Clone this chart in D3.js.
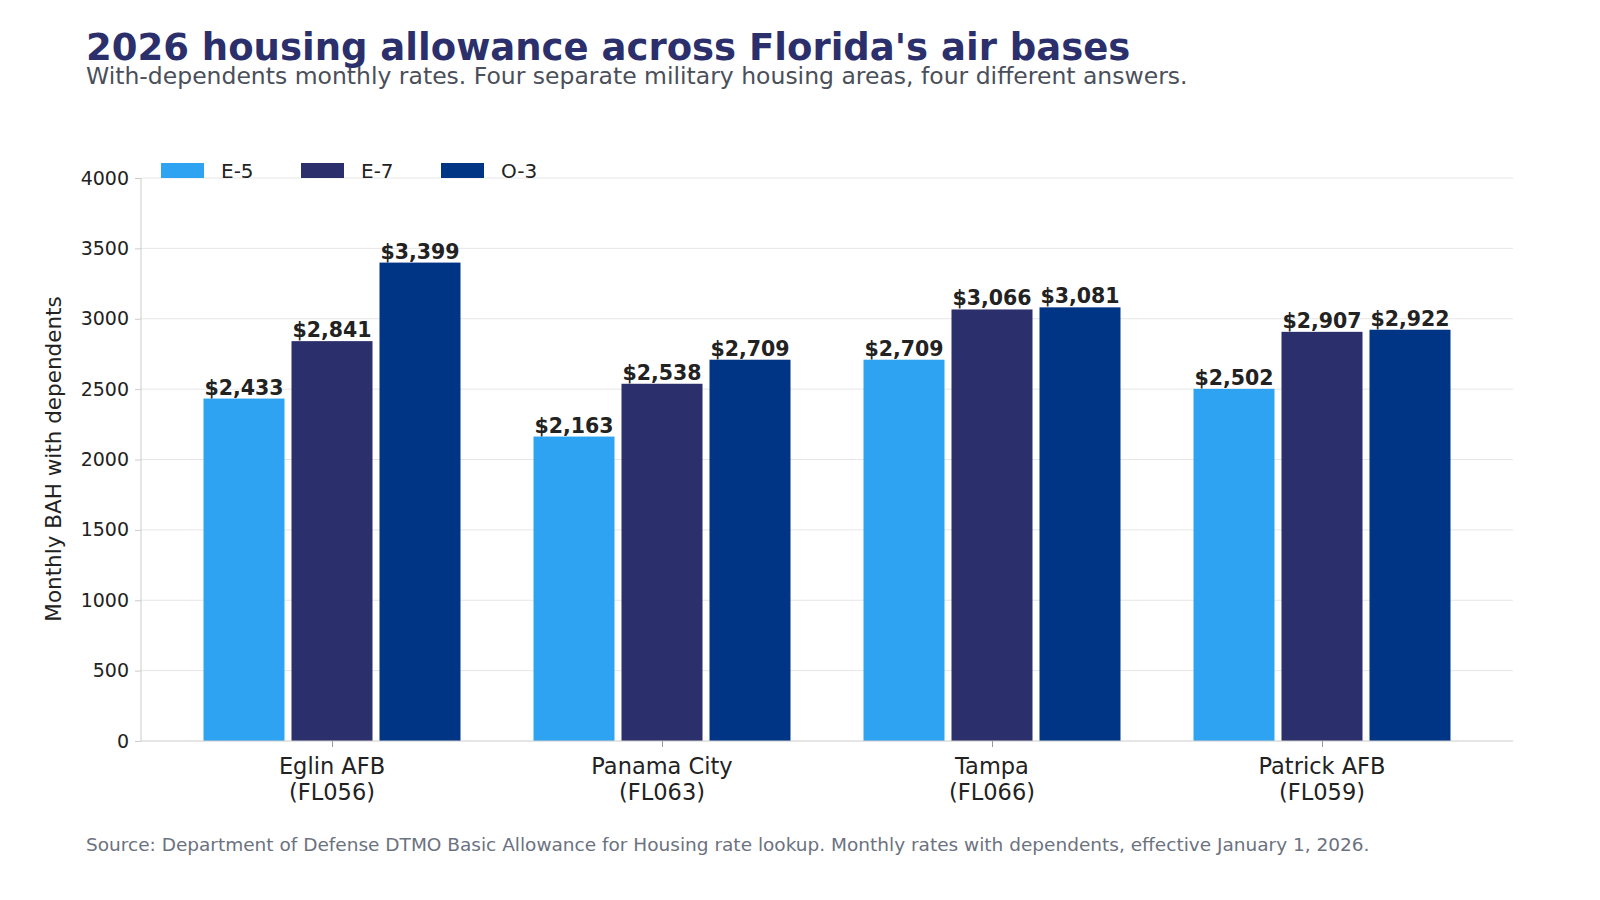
<!DOCTYPE html>
<html><head><meta charset="utf-8">
<script src="https://cdn.jsdelivr.net/npm/d3@7"></script>
<style>body{margin:0;background:#fff;font-family:"DejaVu Sans",sans-serif}</style>
</head><body><svg id="c" width="1600" height="900"></svg>
<script>
// chart data
const bases = ["Eglin AFB|(FL056)", "Panama City|(FL063)", "Tampa|(FL066)", "Patrick AFB|(FL059)"];
const grades = ["E-5", "E-7", "O-3"];
const e5 = [2433, 2163, 2709, 2502];
const e7 = [2841, 2538, 3066, 2907];
const o3 = [3399, 2709, 3081, 2922];
const yTicks = [0, 500, 1000, 1500, 2000, 2500, 3000, 3500, 4000];
const colors = ["#2EA3F2", "#2B2F6B", "#003586"];

const series = [e5, e7, o3];
const svg = d3.select("#c");
const x = d3.scalePoint().domain(bases).range([332, 1322]);
const y = d3.scaleLinear().domain([0, 4000]).range([741, 178]);
const off = d3.scalePoint().domain(grades).range([-88, 88]);
const bw = 81;

// title block
svg.append("text").attr("x", 86).attr("y", 60).attr("font-size", 37).attr("font-weight", "bold")
  .attr("fill", "#2B2F6B").text("2026 housing allowance across Florida's air bases");
svg.append("text").attr("x", 86).attr("y", 84).attr("font-size", 23.5).attr("fill", "#4a4f5a")
  .text("With-dependents monthly rates. Four separate military housing areas, four different answers.");

// grid
svg.append("g").selectAll("line").data(yTicks.slice(1)).join("line")
  .attr("x1", 141).attr("x2", 1513).attr("y1", d => y(d)).attr("y2", d => y(d))
  .attr("stroke", "#e6e6e6").attr("stroke-width", 1);

// bars
series.forEach((vals, i) => {
  const g = svg.append("g");
  g.selectAll("rect").data(vals).join("rect")
    .attr("x", (d, j) => x(bases[j]) + off(grades[i]) - bw / 2)
    .attr("y", d => y(d)).attr("width", bw).attr("height", d => y(0) - y(d))
    .attr("fill", colors[i]);
  g.selectAll("text").data(vals).join("text")
    .attr("x", (d, j) => x(bases[j]) + off(grades[i]))
    .attr("y", d => y(d) - 4).attr("text-anchor", "middle")
    .attr("font-size", 20.5).attr("font-weight", "bold").attr("fill", "#222")
    .text(d => "$" + d3.format(",")(d));
});

// axes
const ya = svg.append("g").attr("transform", "translate(141,0)")
  .call(d3.axisLeft(y).tickValues(yTicks).tickFormat(d3.format("d")).tickSize(6).tickPadding(6));
ya.selectAll("text").attr("font-size", 19).attr("fill", "#222").attr("font-family", "DejaVu Sans");
ya.selectAll("line,path").attr("stroke", "#ccc");
ya.select("path").attr("d", "M0,178V741");

const xa = svg.append("g").attr("transform", "translate(0,741)")
  .call(d3.axisBottom(x).tickSize(6).tickFormat(""));
xa.select("path").attr("d", "M141,0H1513").attr("stroke", "#ccc");
xa.selectAll("line").attr("stroke", "#999");
svg.append("g").selectAll("text").data(bases).join("text")
  .attr("x", d => x(d)).attr("y", 774).attr("text-anchor", "middle")
  .attr("font-size", 22.5).attr("fill", "#222")
  .each(function(d) {
    d.split("|").forEach((s, k) => d3.select(this).append("tspan")
      .attr("x", x(d)).attr("dy", k ? 26 : 0).text(s));
  });

svg.append("text").attr("transform", "translate(61,459) rotate(-90)").attr("text-anchor", "middle")
  .attr("font-size", 21.5).attr("fill", "#222").text("Monthly BAH with dependents");

// legend
const lg = svg.append("g").selectAll("g").data(grades).join("g")
  .attr("transform", (d, i) => `translate(${161 + i * 140},163)`);
lg.append("rect").attr("width", 43).attr("height", 15).attr("fill", (d, i) => colors[i]);
lg.append("text").attr("x", 60).attr("y", 15).attr("font-size", 20).attr("fill", "#222").text(d => d);

svg.append("text").attr("x", 86).attr("y", 851).attr("font-size", 18.5).attr("fill", "#6b7280")
  .text("Source: Department of Defense DTMO Basic Allowance for Housing rate lookup. Monthly rates with dependents, effective January 1, 2026.");
</script></body></html>
